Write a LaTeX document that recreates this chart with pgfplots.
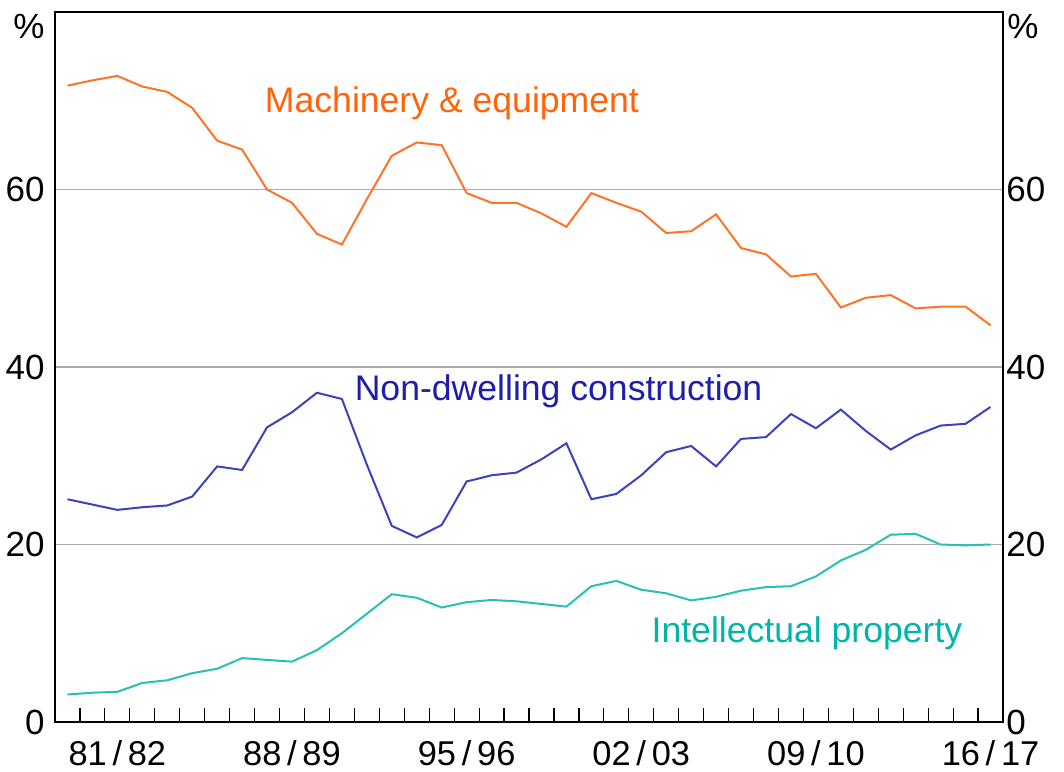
\documentclass[border=0pt]{standalone}
\usepackage{fontspec}
\setmainfont{Liberation Sans}
\usepackage{pgfplots}
\usepackage{pgfplotstable}
\pgfplotsset{compat=1.18}
\definecolor{machtext}{RGB}{255,100,10}
\definecolor{machline}{RGB}{255,115,40}
\definecolor{ndtext}{RGB}{30,30,170}
\definecolor{ndline}{RGB}{60,65,190}
\definecolor{iptext}{RGB}{0,180,170}
\definecolor{ipline}{RGB}{40,192,182}
\pgfplotstableread{
k mach nd ip
0 71.7 25.1 3.1
1 72.3 24.5 3.3
2 72.8 23.9 3.4
3 71.6 24.2 4.4
4 71.0 24.4 4.7
5 69.2 25.4 5.5
6 65.5 28.8 6.0
7 64.5 28.4 7.2
8 60.0 33.2 7.0
9 58.5 34.9 6.8
10 55.0 37.1 8.1
11 53.8 36.4 10.0
12 58.9 29.0 12.2
13 63.8 22.1 14.4
14 65.3 20.8 14.0
15 65.0 22.2 12.9
16 59.6 27.1 13.5
17 58.5 27.8 13.75
18 58.5 28.1 13.6
19 57.3 29.6 13.3
20 55.8 31.4 13.0
21 59.6 25.1 15.3
22 58.5 25.7 15.9
23 57.5 27.8 14.9
24 55.1 30.4 14.5
25 55.3 31.1 13.7
26 57.2 28.8 14.1
27 53.4 31.9 14.8
28 52.7 32.1 15.2
29 50.2 34.7 15.3
30 50.5 33.1 16.4
31 46.7 35.2 18.2
32 47.8 32.8 19.4
33 48.1 30.7 21.1
34 46.6 32.3 21.2
35 46.8 33.4 20.0
36 46.8 33.6 19.9
37 44.7 35.5 20.0
}\datatable
\newcommand{\lblfont}{\fontsize{17.5}{21}\selectfont}
\newcommand{\xlblfont}{\fontsize{17.2}{21}\selectfont}
\newcommand{\serfont}{\fontsize{17.8}{21}\selectfont}
\begin{document}
\begin{tikzpicture}
\pgfplotsset{
  common/.style={
    scale only axis, width=474pt, height=355pt,
    xmin=-0.5, xmax=37.5, ymin=0, ymax=80,
    ytick={0,20,40,60},
    /pgf/number format/assume math mode=true,
    tick label style={font=\lblfont, inner sep=0pt},
    major tick length=0pt,
  }
}
\begin{axis}[common,
  axis line style={line width=1pt, black},
  xtick={2,9,16,23,30,37},
  xticklabels={81\,/\,82, 88\,/\,89, 95\,/\,96, 02\,/\,03, 09\,/\,10, 16\,/\,17},
  xticklabel style={font=\xlblfont},
  minor xtick={0.5,1.5,...,36.5},
  minor tick length=7pt,
  tick align=inside,
  xtick pos=left, ytick pos=left,
  minor tick style={line width=0.6pt, black},
  xticklabel shift=9.2pt,
  yticklabel shift=5pt,
  ymajorgrids,
  major grid style={color=black!33, line width=0.9pt},
  clip=false,
]
\addplot[machline, line width=1pt] table[x=k, y=mach] {\datatable};
\addplot[ndline, line width=1pt] table[x=k, y=nd] {\datatable};
\addplot[ipline, line width=1pt] table[x=k, y=ip] {\datatable};
\node[anchor=base west, inner sep=0pt, text=machtext, font=\serfont] at (axis cs:7.9,68.7) {Machinery \& equipment};
\node[anchor=base west, inner sep=0pt, text=ndtext, font=\serfont] at (axis cs:11.5,36.2) {Non-dwelling construction};
\node[anchor=base west, inner sep=0pt, text=iptext, font=\serfont] at (axis cs:23.4,9.0) {Intellectual property};
\node[anchor=east, inner sep=0pt, font=\lblfont] at ([xshift=-5pt]rel axis cs:0,0.979) {\%};
\node[anchor=west, inner sep=0pt, font=\lblfont] at ([xshift=2pt]rel axis cs:1,0.979) {\%};
\end{axis}
\begin{axis}[common,
  axis x line=none,
  axis y line*=right,
  y axis line style={draw=none},
  yticklabel shift=1.5pt,
]
\end{axis}
\path (-27.5pt,-24.5pt) rectangle (504.5pt,361pt);
\end{tikzpicture}
\end{document}
